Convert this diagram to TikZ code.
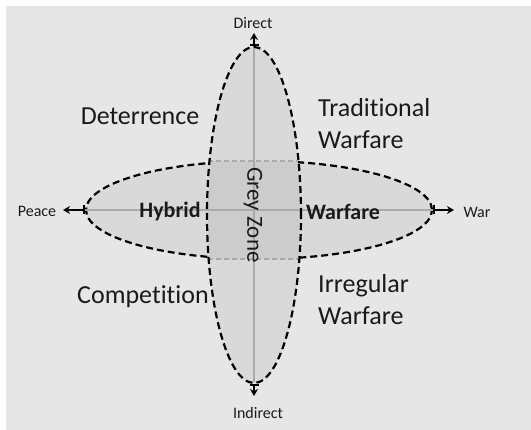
\documentclass[tikz,border=0pt]{standalone}
\usepackage{fontspec}
\setmainfont{Carlito}[Ligatures=NoCommon]
\usetikzlibrary{shapes.geometric,arrows.meta}
\definecolor{bggrey}{HTML}{E6E6E6}
\definecolor{fillgrey}{HTML}{D9D9D9}
\definecolor{midgrey}{HTML}{CCCCCC}
\definecolor{axisgrey}{HTML}{AAAAAA}
\definecolor{txt}{HTML}{1A1A1A}
\tikzset{
  zone/.style={ellipse,inner sep=0pt,fill=fillgrey},
  outline/.style={ellipse,inner sep=0pt,draw=black,line width=2.2pt,dash pattern=on 7pt off 4pt},
  axisline/.style={draw=axisgrey,line width=1.8pt},
  thinsep/.style={draw=axisgrey,line width=1.2pt,dash pattern=on 5pt off 3pt},
  pole/.style={draw=black,line width=2.2pt,{Bar[width=9pt,line width=2pt]}-{Stealth[length=7pt,width=8pt]}},
  small/.style={text=txt,font=\fontsize{16}{19}\selectfont,inner sep=0pt},
  big/.style={text=txt,font=\fontsize{26}{32}\selectfont,inner sep=0pt,align=left},
  boldlab/.style={text=txt,font=\fontsize{22}{26}\selectfont\bfseries,inner sep=0pt}
}
\begin{document}
\begin{tikzpicture}[x=1pt,y=-1pt]
\useasboundingbox (0,0) rectangle (531,430);
\fill[white] (0,0) rectangle (531,430);
\fill[bggrey] (6,6) rectangle (531,430);
% filled zones
\node[zone,minimum width=346pt,minimum height=98pt] (hfill) at (259,210) {};
\node[zone,minimum width=94pt,minimum height=336pt] (vfill) at (254,215) {};
% horizontal outline first (hidden inside vertical zone)
\node[outline,minimum width=346pt,minimum height=98pt] (horiz) at (259,210) {};
\node[zone,minimum width=92pt,minimum height=334pt] (vcover) at (254,215) {};
\begin{scope}
  \clip (254,215) ellipse [x radius=46pt, y radius=167pt];
  \fill[midgrey] (200,161) rectangle (310,259);
  \draw[thinsep] (200,161) -- (310,161);
  \draw[thinsep] (200,259) -- (310,259);
\end{scope}
% axes
\draw[axisline] (horiz.west) -- (horiz.east);
\node[outline,minimum width=94pt,minimum height=336pt] (vert) at (254,215) {};
\draw[axisline] ([yshift=-2pt]vert.north) -- ([yshift=2pt]vert.south);
% poles
\coordinate (ptop) at (254,33);
\coordinate (pbot) at (254,396);
\coordinate (pleft) at (63,210);
\coordinate (pright) at (454,210);
\draw[pole] (vert.north) -- (ptop);
\draw[pole] (vert.south) -- (pbot);
\draw[pole] (horiz.west) -- (pleft);
\draw[pole] (horiz.east) -- (pright);
\node[small] (direct) at (253,23) {Direct};
\node[small] (indirect) at (258,413) {Indirect};
\node[small] (peace) at (37,211) {Peace};
\node[small] (war) at (477,212) {War};
% labels
\node[big] (deter) at (140,116) {Deterrence};
\node[big,anchor=west] (trad) at (318,124) {Traditional\\Warfare};
\node[big] (comp) at (143,297) {Competition};
\node[big,anchor=west] (irreg) at (318,300) {Irregular\\Warfare};
\node[boldlab] (hybrid) at (170,212) {Hybrid};
\node[boldlab] (warfare) at (343,212) {Warfare};
\node[text=txt,font=\fontsize{23}{27}\selectfont,inner sep=0pt,rotate=-90] (grey) at (253,215) {Grey Zone};
\end{tikzpicture}
\end{document}
